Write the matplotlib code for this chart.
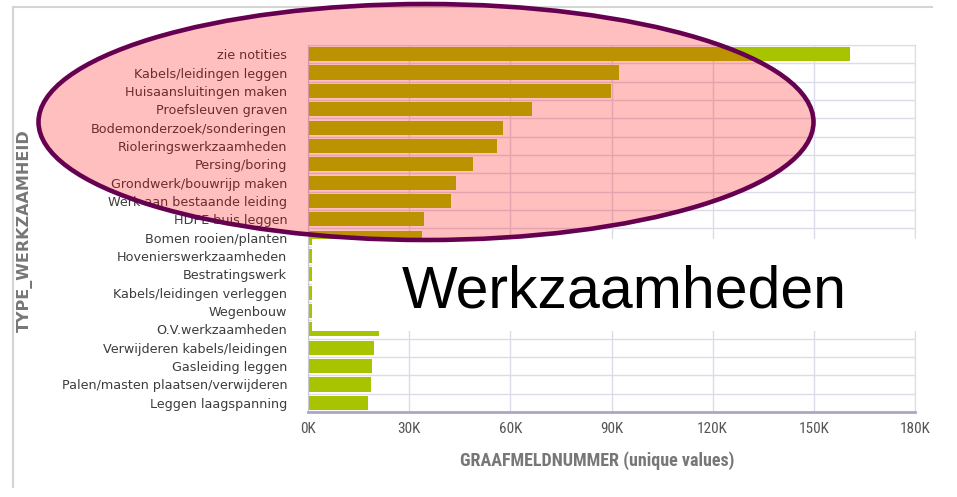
import matplotlib
matplotlib.use("Agg")
import matplotlib.pyplot as plt
from matplotlib import font_manager
from matplotlib.patches import Ellipse, Rectangle
from matplotlib.lines import Line2D
from matplotlib.ticker import FuncFormatter
import numpy as np

# Data (top to bottom)
categories = ["zie notities", "Kabels/leidingen leggen", "Huisaansluitingen maken",
              "Proefsleuven graven", "Bodemonderzoek/sonderingen",
              "Rioleringswerkzaamheden", "Persing/boring", "Grondwerk/bouwrijp maken",
              "Werk aan bestaande leiding", "HDPE buis leggen", "Bomen rooien/planten",
              "Hovenierswerkzaamheden", "Bestratingswerk", "Kabels/leidingen verleggen",
              "Wegenbouw", "O.V.werkzaamheden", "Verwijderen kabels/leidingen",
              "Gasleiding leggen", "Palen/masten plaatsen/verwijderen",
              "Leggen laagspanning"]
values = [160700, 92200, 89900, 66400, 57900, 56000, 49000, 44000, 42500, 34400,
          33700, 30000, 27500, 25500, 23000, 21000, 19500, 19100, 18700, 17900]
xticks = [0, 30000, 60000, 90000, 120000, 150000, 180000]

# look for a narrow face for the axis texts
names = {f.name for f in font_manager.fontManager.ttflist}
narrow_name = None
for cand in ["Roboto Condensed", "Liberation Sans Narrow", "DejaVu Sans Condensed",
             "Open Sans Condensed", "Noto Sans Condensed"]:
    if cand in names:
        narrow_name = cand
        break
if narrow_name is None:
    narrow, k = ["DejaVu Sans"], 0.8
else:
    narrow, k = [narrow_name, "DejaVu Sans"], 1.0

fig = plt.figure(figsize=(9.57, 4.97), dpi=100)
ax = fig.add_axes([308/957, 1 - 412/497, (915 - 308)/957, (412 - 45)/497])

y = np.arange(len(categories))
ax.barh(y, values, height=0.77, color="#a8c400", zorder=2)
ax.set_ylim(len(categories) - 0.5, -0.5)
ax.set_xlim(0, 180000)
ax.set_yticks(y)
ax.set_yticklabels(categories, family="DejaVu Sans", fontsize=9.2, color="#3c3c3c")
ax.set_xticks(xticks)
ax.xaxis.set_major_formatter(FuncFormatter(lambda v, p: f"{int(v/1000)}K"))
for t in ax.get_xticklabels():
    t.set_family(narrow)
    t.set_fontsize(11*k)
    t.set_color("#555555")
ax.tick_params(axis="y", length=0, pad=15)
ax.tick_params(axis="x", length=0, pad=7)

# grid
ax.set_yticks(np.arange(-0.5, len(categories)), minor=True)
ax.grid(axis="y", which="minor", color="#dcdce8", lw=1, zorder=0)
ax.grid(axis="x", which="major", color="#dcdce8", lw=1, zorder=0)
ax.tick_params(axis="y", which="minor", length=0)

for s in ["top", "right"]:
    ax.spines[s].set_color("#dcdce8")
ax.spines["left"].set_color("#c8c8d4")
ax.spines["bottom"].set_color("#a8a8c4")
ax.spines["bottom"].set_linewidth(2)

ax.set_xlabel("GRAAFMELDNUMMER (unique values)", family=narrow, fontsize=13*k,
              fontweight="bold", color="#777777")
ax.xaxis.set_label_coords(597/957, 1 - 451/497, transform=fig.transFigure)
ax.set_ylabel("TYPE_WERKZAAMHEID", family="DejaVu Sans", fontsize=11.5,
              fontweight="bold", color="#777777")
ax.yaxis.set_label_coords(33/957, 1 - 231/497, transform=fig.transFigure)

# outer panel frame (top and left)
fig.add_artist(Line2D([13/957, 13/957], [1 - 487/497, 1 - 7/497],
                      transform=fig.transFigure, color="#d4d4d4", lw=1.5))
fig.add_artist(Line2D([13/957, 932/957], [1 - 7/497, 1 - 7/497],
                      transform=fig.transFigure, color="#d4d4d4", lw=1.5))

# white box with caption
fig.add_artist(Rectangle((312/957, 1 - 331/497), (918 - 312)/957, (331 - 239)/497,
                         transform=fig.transFigure, facecolor="white",
                         edgecolor="none", zorder=4))
fig.text(624/957, 1 - 307/497, "Werkzaamheden", family=["Liberation Sans", "DejaVu Sans"],
         fontsize=42.5, ha="center", va="baseline", color="black", zorder=6)

# highlight ellipse
fig.add_artist(Ellipse((426/957, 1 - 122/497), 775/957, 236/497,
                       transform=fig.transFigure, facecolor=(1, 0, 0, 0.25),
                       edgecolor="#660050", lw=3.3, zorder=5))

fig.savefig("out.png", dpi=100)
